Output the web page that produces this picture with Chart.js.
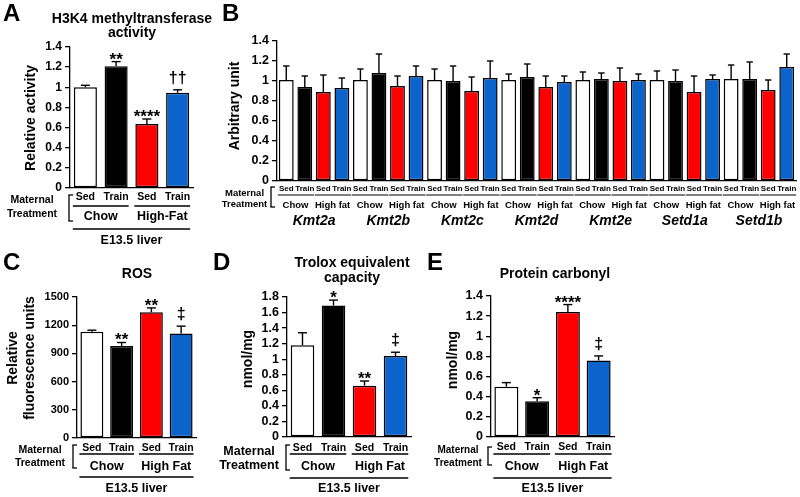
<!DOCTYPE html>
<html>
<head>
<meta charset="utf-8">
<script src="https://cdn.jsdelivr.net/npm/chart.js@4.4.0/dist/chart.umd.min.js"></script>
<style>
  body { margin: 0; background: #fff; width: 800px; height: 497px; position: relative; overflow: hidden; }
  canvas { position: absolute; }
</style>
</head>
<body>
<canvas id="chartA" width="225" height="250" style="left:0;top:0"></canvas>
<canvas id="chartB" width="595" height="235" style="left:205px;top:0"></canvas>
<canvas id="chartC" width="205" height="247" style="left:0;top:250px"></canvas>
<canvas id="chartD" width="220" height="247" style="left:205px;top:250px"></canvas>
<canvas id="chartE" width="200" height="247" style="left:425px;top:250px"></canvas>
<script>
// --- data ---
const groupLabels = ['Sed', 'Train', 'Sed', 'Train'];
const barColors = ['#ffffff', '#000000', '#ff0000', '#0a64cc'];

// A: H3K4 methyltransferase activity
const activityMean = [1.0, 1.21, 0.635, 0.945];
const activityErr = [0.02, 0.045, 0.05, 0.03];
const activityMarks = ['', '**', '****', '††'];
const dietLabelsA = ['Chow', 'High-Fat'];
const ticksA = [0, 0.2, 0.4, 0.6, 0.8, 1, 1.2, 1.4];

// B: gene expression
const genes = ['Kmt2a', 'Kmt2b', 'Kmt2c', 'Kmt2d', 'Kmt2e', 'Setd1a', 'Setd1b'];
const chowSedMean = [1.01, 1.01, 1.01, 1.01, 1.01, 1.01, 1.02];
const chowSedErr = [0.14, 0.11, 0.11, 0.06, 0.08, 0.09, 0.14];
const chowTrainMean = [0.94, 1.08, 1.0, 1.04, 1.02, 1.0, 1.02];
const chowTrainErr = [0.11, 0.19, 0.15, 0.13, 0.06, 0.11, 0.17];
const hfSedMean = [0.89, 0.95, 0.90, 0.94, 1.0, 0.89, 0.91];
const hfSedErr = [0.17, 0.10, 0.14, 0.11, 0.13, 0.16, 0.10];
const hfTrainMean = [0.93, 1.05, 1.03, 0.99, 1.01, 1.02, 1.14];
const hfTrainErr = [0.10, 0.10, 0.17, 0.06, 0.06, 0.04, 0.13];
const dietLabelsB = ['Chow', 'High fat'];
const ticksB = [0, 0.2, 0.4, 0.6, 0.8, 1, 1.2, 1.4];

// C: ROS
const rosMean = [1130, 978, 1338, 1112];
const rosErr = [17, 38, 46, 78];
const rosMarks = ['', '**', '**', '‡'];
const ticksC = [0, 300, 600, 900, 1200, 1500];

// D: Trolox equivalent capacity
const troloxMean = [1.18, 1.69, 0.66, 1.04];
const troloxErr = [0.16, 0.07, 0.06, 0.05];
const troloxMarks = ['', '*', '**', '‡'];
const ticksD = [0, 0.2, 0.4, 0.6, 0.8, 1, 1.2, 1.4, 1.6, 1.8];

// E: Protein carbonyl
const carbonylMean = [0.50, 0.355, 1.24, 0.76];
const carbonylErr = [0.04, 0.035, 0.075, 0.045];
const carbonylMarks = ['', '*', '****', '‡'];
const ticksE = [0, 0.2, 0.4, 0.6, 0.8, 1, 1.2, 1.4];

const dietLabelsCDE = ['Chow', 'High Fat'];

// --- drawing helpers ---
const FONT = "'Liberation Sans', Arial, Helvetica, sans-serif";

function text(ctx, str, x, y, size, opts = {}) {
    ctx.font = (opts.style || 'bold') + ' ' + size + 'px ' + FONT;
    ctx.textAlign = opts.align || 'center';
    ctx.textBaseline = opts.baseline || 'middle';
    ctx.fillText(str, x, y);
}

function line(ctx, x1, y1, x2, y2, w) {
    ctx.lineWidth = w || 1.3;
    ctx.beginPath();
    ctx.moveTo(x1, y1);
    ctx.lineTo(x2, y2);
    ctx.stroke();
}

function vText(ctx, str, x, y, size) {
    ctx.save();
    ctx.translate(x, y);
    ctx.rotate(-Math.PI / 2);
    text(ctx, str, 0, 0, size);
    ctx.restore();
}

function drawMaternal(ctx, m) {
    text(ctx, 'Maternal', m.x, m.y1, m.size);
    text(ctx, 'Treatment', m.x, m.y2, m.size);
    line(ctx, m.bx, m.by1, m.bx, m.by2);
    line(ctx, m.bx - 0.6, m.by1, m.bx + 4, m.by1);
    line(ctx, m.bx - 0.6, m.by2, m.bx + 4, m.by2);
}

// Sed/Train, diet and tissue rows under a 4-bar panel
function drawLiverLabels(chart, o) {
    const ctx = chart.ctx;
    const bars = chart.getDatasetMeta(0).data;
    bars.forEach((b, j) => text(ctx, groupLabels[j], b.x, o.rowY[0], o.groupSize));
    for (let k = 0; k < 2; k++) {
        const a = bars[2 * k], b = bars[2 * k + 1];
        line(ctx, a.x - a.width / 2 - 1, o.lineY[0], b.x + b.width / 2 + 1, o.lineY[0]);
        text(ctx, o.diets[k], (a.x + b.x) / 2, o.rowY[1], o.dietSize);
    }
    const f = bars[0], l = bars[3];
    line(ctx, f.x - f.width / 2 - 1, o.lineY[1], l.x + l.width / 2 + 1, o.lineY[1]);
    text(ctx, 'E13.5 liver', (f.x + l.x) / 2, o.rowY[2], o.dietSize);
}

// labels under the grouped gene panel
function drawGeneLabels(chart, o) {
    const ctx = chart.ctx;
    genes.forEach((gene, g) => {
        const bars = [0, 1, 2, 3].map(i => chart.getDatasetMeta(i).data[g]);
        bars.forEach((b, j) => text(ctx, groupLabels[j], b.x, o.rowY[0], o.groupSize));
        for (let k = 0; k < 2; k++) {
            const a = bars[2 * k], b = bars[2 * k + 1];
            line(ctx, a.x - a.width / 2 - 1, o.lineY, b.x + b.width / 2 + 2, o.lineY, 1.2);
            text(ctx, o.diets[k], (a.x + b.x) / 2, o.rowY[1], o.dietSize);
        }
        text(ctx, gene, (bars[0].x + bars[3].x) / 2, o.rowY[2], 14, { style: 'italic bold' });
    });
}

function panelDecor(o) {
    return {
        id: 'decor',
        afterDatasetsDraw(chart) {
            const ctx = chart.ctx;
            const yScale = chart.scales.y;
            ctx.save();
            ctx.strokeStyle = '#000';
            ctx.fillStyle = '#000';

            // error bars and significance marks
            chart.data.datasets.forEach((ds, i) => {
                chart.getDatasetMeta(i).data.forEach((bar, j) => {
                    const top = yScale.getPixelForValue(ds.data[j] + o.errors[i][j]);
                    line(ctx, bar.x, bar.y, bar.x, top, 1.4);
                    line(ctx, bar.x - o.cap, top, bar.x + o.cap, top, 1.4);
                    const mark = o.marks ? o.marks[i][j] : '';
                    if (mark) {
                        const star = mark.includes('*');
                        text(ctx, mark, bar.x, star ? top + 3 : top - 7, star ? 17 : 16, { baseline: 'alphabetic' });
                    }
                });
            });

            text(ctx, o.letter, o.letterPos[0], o.letterPos[1], 24, { align: 'left', baseline: 'alphabetic' });
            (o.title || []).forEach((t, k) => {
                text(ctx, t, o.titleX, o.titleY[k], 14, { baseline: 'alphabetic' });
            });
            o.yTitle.forEach((t, k) => vText(ctx, t, o.yTitleX[k], o.yTitleY, 14));

            drawMaternal(ctx, o.maternal);
            if (o.genes) drawGeneLabels(chart, o.labels);
            else drawLiverLabels(chart, o.labels);
            ctx.restore();
        }
    };
}

function makePanel(id, cfg) {
    const ticks = cfg.ticks;
    return new Chart(document.getElementById(id), {
        type: 'bar',
        data: { labels: cfg.labels, datasets: cfg.datasets },
        options: {
            responsive: false,
            animation: false,
            layout: { padding: cfg.padding },
            plugins: { legend: { display: false }, tooltip: { enabled: false } },
            scales: {
                x: {
                    grid: { display: false },
                    ticks: { display: false },
                    border: { color: '#000', width: 1.3 },
                    afterFit: s => { s.height = 0; }
                },
                y: {
                    min: ticks[0],
                    max: ticks[ticks.length - 1],
                    afterBuildTicks: s => { s.ticks = ticks.map(v => ({ value: v })); },
                    grid: { drawOnChartArea: false, color: '#000', lineWidth: 1.3, tickLength: 5 },
                    border: { color: '#000', width: 1.3 },
                    ticks: {
                        color: '#000',
                        padding: 3,
                        autoSkip: false,
                        font: { family: FONT, weight: 'bold', size: cfg.tickSize },
                        callback: v => String(v)
                    },
                    afterFit: s => { s.width = cfg.yWidth; }
                }
            }
        },
        plugins: [panelDecor(cfg.decor)]
    });
}

function singleSeries(values, barPct) {
    return [{
        data: values,
        backgroundColor: barColors,
        borderColor: '#000',
        borderWidth: 1.5,
        borderSkipped: false,
        barPercentage: barPct,
        categoryPercentage: 1
    }];
}

// --- Panel A ---
makePanel('chartA', {
    labels: groupLabels,
    datasets: singleSeries(activityMean, 0.75),
    ticks: ticksA, tickSize: 12, yWidth: 70,
    padding: { left: 0, top: 47, right: 32, bottom: 62 },
    decor: {
        errors: [activityErr], marks: [activityMarks], cap: 4.5,
        letter: 'A', letterPos: [3, 21],
        title: ['H3K4 methyltransferase', 'activity'], titleX: 132, titleY: [23, 37],
        yTitle: ['Relative activity'], yTitleX: [31], yTitleY: 118,
        maternal: { x: 32, y1: 200, y2: 214, size: 10.5, bx: 69, by1: 195, by2: 221 },
        labels: { rowY: [197, 217, 241], lineY: [206, 229], groupSize: 10.5, dietSize: 12.5, diets: dietLabelsA }
    }
});

// --- Panel B ---
makePanel('chartB', {
    labels: genes,
    datasets: [chowSedMean, chowTrainMean, hfSedMean, hfTrainMean].map((d, i) => ({
        data: d,
        backgroundColor: barColors[i],
        borderColor: '#000',
        borderWidth: 1.5,
        borderSkipped: false,
        barPercentage: 0.8,
        categoryPercentage: 1
    })),
    ticks: ticksB, tickSize: 12.5, yWidth: 72,
    padding: { left: 0, top: 41, right: 4, bottom: 54 },
    decor: {
        errors: [chowSedErr, chowTrainErr, hfSedErr, hfTrainErr], cap: 3.2,
        letter: 'B', letterPos: [17, 21],
        yTitle: ['Arbitrary unit'], yTitleX: [30], yTitleY: 106,
        maternal: { x: 39.5, y1: 193, y2: 204, size: 9.5, bx: 66, by1: 187, by2: 207 },
        genes: true,
        labels: { rowY: [189, 205, 221], lineY: 195, groupSize: 8, dietSize: 9.5, diets: dietLabelsB }
    }
});

// --- Panel C ---
makePanel('chartC', {
    labels: groupLabels,
    datasets: singleSeries(rosMean, 0.77),
    ticks: ticksC, tickSize: 11, yWidth: 77,
    padding: { left: 0, top: 47, right: 9, bottom: 59 },
    decor: {
        errors: [rosErr], marks: [rosMarks], cap: 4.5,
        letter: 'C', letterPos: [3, 20],
        title: ['ROS'], titleX: 137, titleY: [28],
        yTitle: ['Relative', 'fluorescence units'], yTitleX: [13, 30], yTitleY: 108,
        maternal: { x: 40, y1: 200, y2: 213, size: 10.5, bx: 73, by1: 195, by2: 218 },
        labels: { rowY: [198, 217, 239], lineY: [204, 227], groupSize: 10.5, dietSize: 12.5, diets: dietLabelsCDE }
    }
});

// --- Panel D ---
makePanel('chartD', {
    labels: groupLabels,
    datasets: singleSeries(troloxMean, 0.76),
    ticks: ticksD, tickSize: 12.5, yWidth: 82,
    padding: { left: 0, top: 47, right: 14, bottom: 60 },
    decor: {
        errors: [troloxErr], marks: [troloxMarks], cap: 4.5,
        letter: 'D', letterPos: [8, 20],
        title: ['Trolox equivalent', 'capacity'], titleX: 147, titleY: [17, 32],
        yTitle: ['nmol/mg'], yTitleX: [43], yTitleY: 109,
        maternal: { x: 44, y1: 202, y2: 216, size: 12.5, bx: 81, by1: 195, by2: 220 },
        labels: { rowY: [198, 217, 239], lineY: [204, 228], groupSize: 10.5, dietSize: 12.5, diets: dietLabelsCDE }
    }
});

// --- Panel E ---
makePanel('chartE', {
    labels: groupLabels,
    datasets: singleSeries(carbonylMean, 0.78),
    ticks: ticksE, tickSize: 12.5, yWidth: 66,
    padding: { left: 0, top: 46, right: 11, bottom: 60 },
    decor: {
        errors: [carbonylErr], marks: [carbonylMarks], cap: 4.5,
        letter: 'E', letterPos: [2, 20],
        title: ['Protein carbonyl'], titleX: 130, titleY: [28],
        yTitle: ['nmol/mg'], yTitleX: [28], yTitleY: 110,
        maternal: { x: 33, y1: 200, y2: 213, size: 10, bx: 63, by1: 197, by2: 215 },
        labels: { rowY: [197, 217, 239], lineY: [204, 228], groupSize: 10.5, dietSize: 12.5, diets: dietLabelsCDE }
    }
});
</script>
</body>
</html>
